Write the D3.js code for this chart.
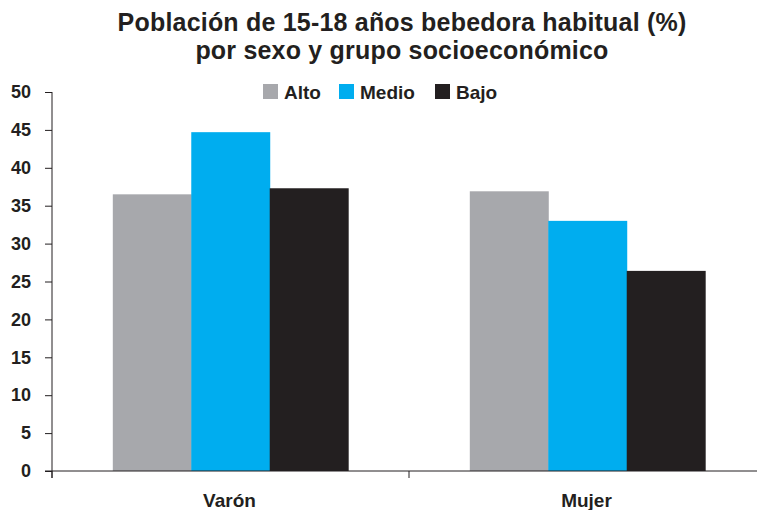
<!DOCTYPE html>
<html>
<head>
<meta charset="utf-8">
<script src="https://cdn.jsdelivr.net/npm/d3@7"></script>
<style>
  body { margin: 0; background: #fff; }
  svg { font-family: "Liberation Sans", Arial, sans-serif; font-weight: bold; }
</style>
</head>
<body>
<svg></svg>
<script>
const size = { w: 757, h: 510 };
const margin = { t: 92, r: -9, b: 39, l: 52 };

// data
const sexes = ["Varón", "Mujer"];
const levels = ["Alto", "Medio", "Bajo"];
const alto = [36.5, 36.9];
const medio = [44.7, 33.0];
const bajo = [37.3, 26.4];
const yTicks = [0, 5, 10, 15, 20, 25, 30, 35, 40, 45, 50];
const colors = ["#a7a8ac", "#00adef", "#231f20"];

const series = [alto, medio, bajo];

const svg = d3.select("svg").attr("width", size.w).attr("height", size.h);

const x = d3.scaleBand()
  .domain(sexes)
  .range([margin.l, size.w - margin.r])
  .paddingInner(0)
  .paddingOuter(0);

const xInner = d3.scaleBand()
  .domain(levels)
  .range([0, x.bandwidth()])
  .paddingOuter(0.775)
  .paddingInner(0);

const y = d3.scaleLinear()
  .domain([0, 50])
  .range([size.h - margin.b, margin.t]);

// title
const title = svg.append("g")
  .attr("fill", "#231f20")
  .style("font-size", "25px")
  .style("letter-spacing", "0.2px");
title.append("text")
  .attr("x", 402).attr("y", 31)
  .attr("text-anchor", "middle")
  .text("Población de 15-18 años bebedora habitual (%)");
title.append("text")
  .attr("x", 402).attr("y", 59)
  .attr("text-anchor", "middle")
  .text("por sexo y grupo socioeconómico");

// bars
const groups = svg.append("g").selectAll("g")
  .data(sexes)
  .join("g")
  .attr("transform", (d) => `translate(${x(d)},0)`);

groups.selectAll("rect")
  .data((d, i) => levels.map((l, j) => ({ level: l, value: series[j][i] })))
  .join("rect")
  .attr("x", (d) => xInner(d.level))
  .attr("width", xInner.bandwidth() + 0.5)
  .attr("y", (d) => y(d.value))
  .attr("height", (d) => y(0) - y(d.value))
  .attr("fill", (d, i) => colors[i]);

// y axis
const yAxis = svg.append("g")
  .attr("transform", `translate(${margin.l},0)`)
  .call(d3.axisLeft(y).tickValues(yTicks).tickSize(7).tickPadding(14).tickSizeOuter(0));
yAxis.select(".domain").remove();
yAxis.append("line")
  .attr("x1", 0).attr("x2", 0)
  .attr("y1", y(50)).attr("y2", y(0) + 7)
  .attr("stroke", "#231f20");
yAxis.selectAll(".tick line").attr("stroke", "#231f20");
yAxis.selectAll(".tick text")
  .attr("fill", "#231f20")
  .style("font-size", "18px")
  .style("font-family", "Liberation Sans, Arial, sans-serif")
  .style("font-weight", "bold");

// x axis
svg.append("line")
  .attr("x1", margin.l - 7).attr("x2", size.w)
  .attr("y1", y(0)).attr("y2", y(0))
  .attr("stroke", "#231f20");
svg.append("g").selectAll("line")
  .data(sexes)
  .join("line")
  .attr("x1", (d) => x(d)).attr("x2", (d) => x(d))
  .attr("y1", y(0)).attr("y2", y(0) + 7)
  .attr("stroke", "#231f20");

svg.append("g").selectAll("text")
  .data(sexes)
  .join("text")
  .attr("x", (d) => x(d) + x.bandwidth() / 2 - 1)
  .attr("y", 507)
  .attr("text-anchor", "middle")
  .attr("fill", "#231f20")
  .style("font-size", "19px")
  .text((d) => d);

// legend
const legendX = [263, 339, 435];
const legend = svg.append("g").selectAll("g")
  .data(levels)
  .join("g")
  .attr("transform", (d, i) => `translate(${legendX[i]},84)`);
legend.append("rect")
  .attr("width", 15).attr("height", 15)
  .attr("fill", (d, i) => colors[i]);
legend.append("text")
  .attr("x", 21).attr("y", 14.5)
  .attr("fill", "#231f20")
  .style("font-size", "19px")
  .text((d) => d);
</script>
</body>
</html>
